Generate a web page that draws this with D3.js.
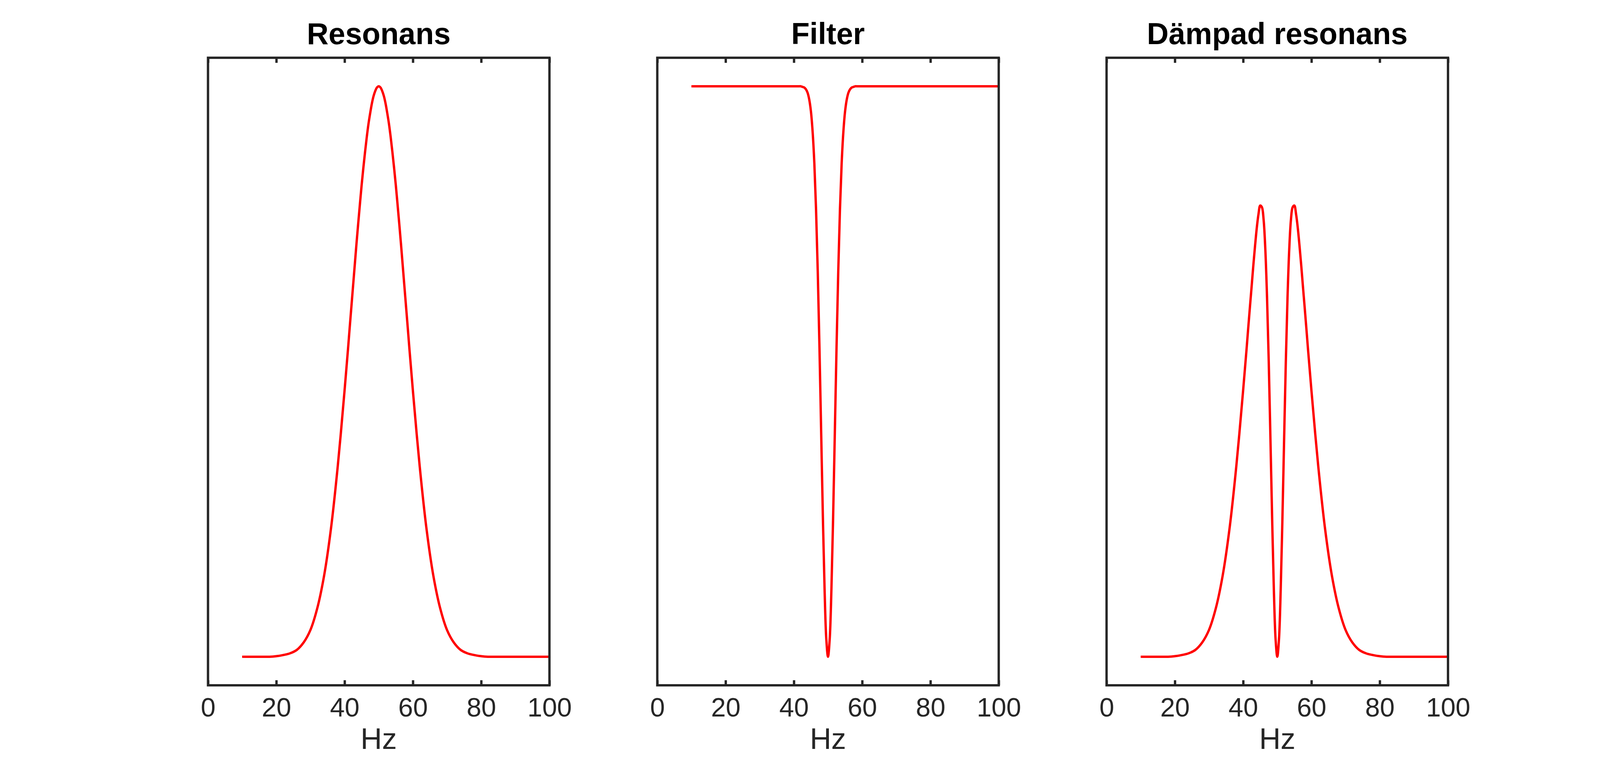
<!DOCTYPE html>
<html>
<head>
<meta charset="utf-8">
<script src="https://cdn.jsdelivr.net/npm/d3@7"></script>
<style>
  html, body { margin: 0; padding: 0; background: #fff; overflow: hidden; }
  svg { display: block; }
  svg text { font-family: "Liberation Sans", Arial, Helvetica, sans-serif; }
</style>
</head>
<body>
<div id="chart"></div>
<script>
// frequencies (Hz) the curves were read at
var hz = [10, 12, 14, 16, 18, 20, 22, 24, 26, 28, 30, 32, 34, 36, 38, 40,
  41, 41.5, 42, 42.5, 43, 43.5, 44, 44.5, 45, 45.5, 46, 46.5, 47, 47.5, 48, 48.5, 49, 49.5,
  50, 50.5, 51, 51.5, 52, 52.5, 53, 53.5, 54, 54.5, 55, 55.5, 56, 56.5, 57, 57.5, 58, 58.5, 59,
  60, 62, 64, 66, 68, 70, 72, 74, 76, 78, 80, 82, 84, 86, 88, 90, 92, 94, 96, 98, 100]

var resonans = [0, 0, 0, 0, 0, 0.001, 0.003, 0.006, 0.012, 0.025, 0.047, 0.085, 0.142, 0.224, 0.334, 0.467,
  0.539, 0.577, 0.614, 0.651, 0.688, 0.725, 0.760, 0.794, 0.827, 0.857, 0.885, 0.911, 0.934, 0.953, 0.970, 0.983, 0.992, 0.998,
  1.000, 0.998, 0.992, 0.983, 0.970, 0.953, 0.934, 0.911, 0.885, 0.857, 0.827, 0.794, 0.760, 0.725, 0.688, 0.651, 0.614, 0.577, 0.539,
  0.467, 0.334, 0.224, 0.142, 0.085, 0.047, 0.025, 0.012, 0.006, 0.003, 0.001, 0, 0, 0, 0, 0, 0, 0, 0, 0, 0]

var filter = [1, 1, 1, 1, 1, 1, 1, 1, 1, 1, 1, 1, 1, 1, 1, 1,
  1.000, 1.000, 1.000, 0.999, 0.998, 0.995, 0.989, 0.977, 0.956, 0.920, 0.865, 0.784, 0.675, 0.542, 0.393, 0.245, 0.118, 0.031,
  0.000, 0.031, 0.118, 0.245, 0.393, 0.542, 0.675, 0.784, 0.865, 0.920, 0.956, 0.977, 0.989, 0.995, 0.998, 0.999, 1.000, 1.000, 1.000,
  1, 1, 1, 1, 1, 1, 1, 1, 1, 1, 1, 1, 1, 1, 1, 1, 1, 1, 1, 1, 1]

var dampad = [0, 0, 0, 0, 0, 0.001, 0.003, 0.006, 0.012, 0.025, 0.047, 0.085, 0.142, 0.224, 0.334, 0.467,
  0.539, 0.577, 0.614, 0.650, 0.687, 0.721, 0.752, 0.776, 0.791, 0.788, 0.766, 0.714, 0.630, 0.517, 0.381, 0.241, 0.117, 0.031,
  0.000, 0.031, 0.117, 0.241, 0.381, 0.517, 0.630, 0.714, 0.766, 0.788, 0.791, 0.776, 0.752, 0.721, 0.687, 0.650, 0.614, 0.577, 0.539,
  0.467, 0.334, 0.224, 0.142, 0.085, 0.047, 0.025, 0.012, 0.006, 0.003, 0.001, 0, 0, 0, 0, 0, 0, 0, 0, 0, 0]

var titles = ['Resonans', 'Filter', 'Dämpad resonans']
var xTicks = [0, 20, 40, 60, 80, 100]
var xLabel = 'Hz'

// the window may be narrower than asked, so lay out in what we get
var width = window.innerWidth || 5910
var height = window.innerHeight || 1972
var ink = '#262626'

// subplot(1,3,k) positions, as figure fractions
var lefts = [0.13, 0.4108, 0.6916]
var axW = 0.2134 * width
var axTop = (1 - 0.925) * height
var axH = 0.815 * height
var k = height / 1972

var svg = d3.select('#chart')
  .append('svg')
  .attr('width', width)
  .attr('height', height)

var panels = [resonans, filter, dampad]

panels.forEach(function(series, i) {
  var x0 = lefts[i] * width

  var xScale = d3.scaleLinear()
    .domain([0, 100])
    .range([0, axW])

  var yScale = d3.scaleLinear()
    .domain([-0.05, 1.05])
    .range([axH, 0])

  var g = svg.append('g')
    .attr('transform', `translate(${x0},${axTop})`)

  var line = d3.line()
    .x((d, j) => xScale(hz[j]))
    .y(d => yScale(d))
    .curve(d3.curveCatmullRom.alpha(0.5))

  g.append('path')
    .datum(series)
    .attr('d', line)
    .attr('fill', 'none')
    .attr('stroke', '#ff0000')
    .attr('stroke-width', 6 * k)
    .attr('stroke-linejoin', 'round')

  // bottom axis, ticks point inward
  var xAxis = d3.axisBottom(xScale)
    .tickValues(xTicks)
    .tickSizeInner(-13 * k)
    .tickSizeOuter(0)
    .tickPadding(32 * k)

  var bx = g.append('g')
    .attr('transform', `translate(0,${axH})`)
    .call(xAxis)
  bx.select('.domain').remove()
  bx.selectAll('line').attr('stroke', ink).attr('stroke-width', 6 * k)
  bx.selectAll('text')
    .attr('fill', ink)
    .attr('font-size', 68 * k)

  // mirrored ticks on top
  var tx = g.append('g')
    .call(d3.axisTop(xScale).tickValues(xTicks).tickSizeInner(-13 * k).tickSizeOuter(0).tickFormat(''))
  tx.select('.domain').remove()
  tx.selectAll('line').attr('stroke', ink).attr('stroke-width', 6 * k)

  // box
  g.append('rect')
    .attr('x', 0)
    .attr('y', 0)
    .attr('width', axW)
    .attr('height', axH)
    .attr('fill', 'none')
    .attr('stroke', ink)
    .attr('stroke-width', 6 * k)

  g.append('text')
    .text(titles[i])
    .attr('x', axW / 2)
    .attr('y', 113 * k - axTop)
    .attr('text-anchor', 'middle')
    .attr('font-size', 77 * k)
    .attr('font-weight', 'bold')
    .attr('fill', '#000')

  g.append('text')
    .text(xLabel)
    .attr('x', axW / 2)
    .attr('y', 1918 * k - axTop)
    .attr('text-anchor', 'middle')
    .attr('font-size', 76 * k)
    .attr('fill', ink)
})
</script>
</body>
</html>
